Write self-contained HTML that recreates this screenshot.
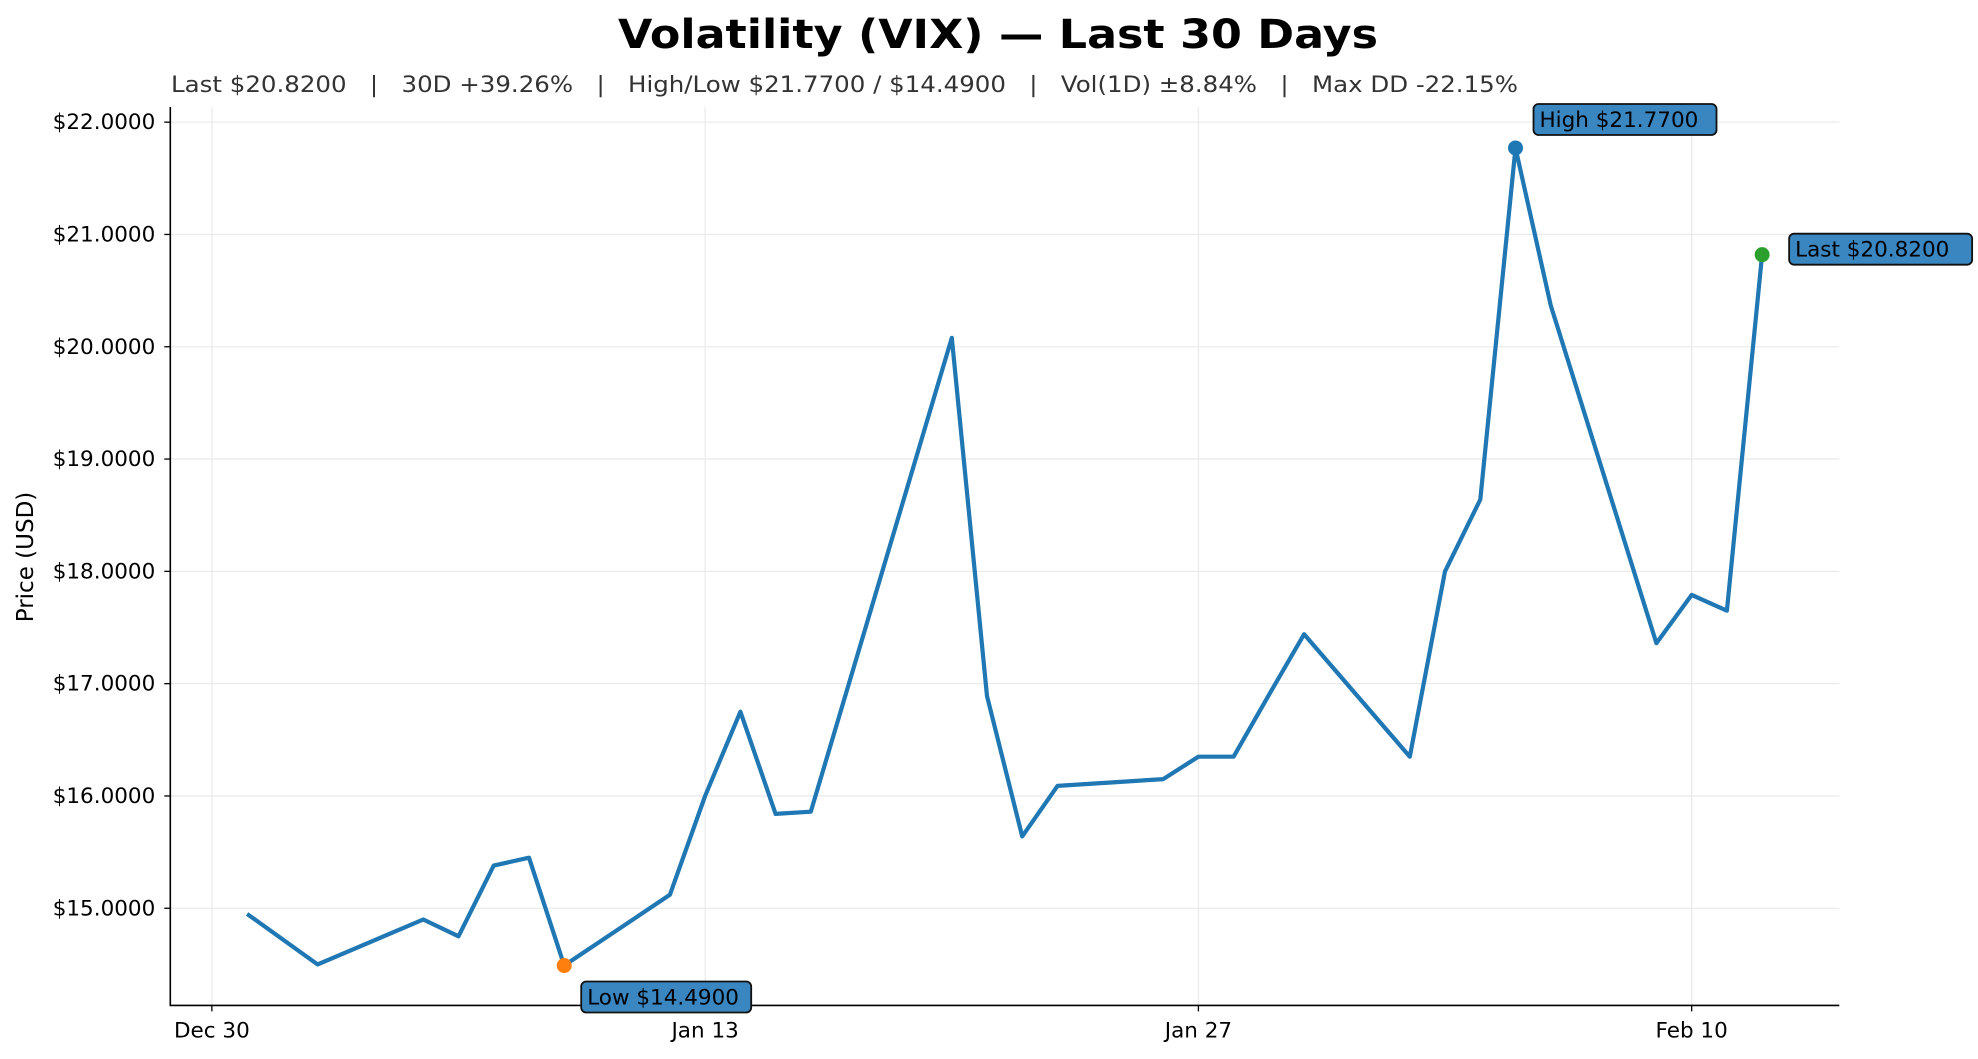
<!DOCTYPE html>
<html><head><meta charset="utf-8"><style>
html,body{margin:0;padding:0;background:#fff}
svg{display:block;font-family:"DejaVu Sans","Liberation Sans",sans-serif}
</style></head><body>
<svg id="chart" width="1978" height="1059" viewBox="0 0 1978 1059">
<text x="998" y="48" text-anchor="middle" font-size="40" font-weight="bold" textLength="760" lengthAdjust="spacingAndGlyphs">Volatility (VIX) — Last 30 Days</text>
<text x="171" y="92" font-size="22" fill="#333" textLength="1347" lengthAdjust="spacingAndGlyphs" xml:space="preserve">Last $20.8200   |   30D +39.26%   |   High/Low $21.7700 / $14.4900   |   Vol(1D) ±8.84%   |   Max DD -22.15%</text>
<text transform="translate(33,557) rotate(-90)" text-anchor="middle" font-size="23">Price (USD)</text>
<g id="grid"></g><g id="axes"></g><g id="series"></g><g id="ann"></g>
</svg>
<script>
const dayOffsets=[1,3,6,7,8,9,10,13,14,15,16,17,21,22,23,24,27,28,29,30,31,34,35,36,37,38,41,42,43,44];
const prices=[14.95,14.50,14.90,14.75,15.38,15.45,14.49,15.12,16.00,16.75,15.84,15.86,20.08,16.89,15.64,16.09,16.15,16.35,16.35,16.90,17.44,16.35,18.00,18.64,21.77,20.37,17.36,17.79,17.65,20.82];
const yTicks=[15,16,17,18,19,20,21,22];
const xTickDays=[0,14,28,42];
const xTickLabels=["Dec 30","Jan 13","Jan 27","Feb 10"];
const NS="http://www.w3.org/2000/svg";
const L=170.3,R=1839.3,T=107,B=1005.4;
const xMin=-1.18,xMax=46.19,yMin=14.135,yMax=22.135;
const xs=d=>L+(d-xMin)/(xMax-xMin)*(R-L);
const ys=v=>B-(v-yMin)/(yMax-yMin)*(B-T);
function mk(tag,attrs,parent){const e=document.createElementNS(NS,tag);for(const k in attrs)e.setAttribute(k,attrs[k]);parent.appendChild(e);return e;}
const grid=document.getElementById('grid'),axes=document.getElementById('axes'),series=document.getElementById('series'),ann=document.getElementById('ann');
yTicks.forEach(v=>{const y=ys(v);
 let g=mk('line',{x1:L,x2:R,y1:y,y2:y,stroke:'#ebebeb','stroke-width':1.3},grid);
 
 
 let t=mk('line',{x1:L-6,x2:L,y1:y,y2:y,stroke:'#000','stroke-width':1.3},axes);
 
 
 let tx=mk('text',{x:L-15,y:y+7,'text-anchor':'end','font-size':21.5},axes);tx.textContent='$'+v.toFixed(4);
 
 
});
xTickDays.forEach((d,i)=>{const x=xs(d);
 let g=mk('line',{x1:x,x2:x,y1:T,y2:B,stroke:'#ebebeb','stroke-width':1.3},grid);
 
 
 let t=mk('line',{x1:x,x2:x,y1:B,y2:B+6,stroke:'#000','stroke-width':1.3},axes);
 
 
 let tx=mk('text',{x:x,y:B+32,'text-anchor':'middle','font-size':21.5},axes);tx.textContent=xTickLabels[i];
 
 
});
let ax=mk('path',{d:`M${L},${T} L${L},${B} L${R},${B}`,fill:'none',stroke:'#000','stroke-width':1.6},axes);


const pts=dayOffsets.map((d,i)=>xs(d).toFixed(1)+','+ys(prices[i]).toFixed(1)).join(' ');
let pl=mk('polyline',{points:pts,fill:'none',stroke:'#1f77b4','stroke-width':4.2,'stroke-linejoin':'round'},series);


let hi=0,lo=0;prices.forEach((p,i)=>{if(p>prices[hi])hi=i;if(p<prices[lo])lo=i;});
const last=prices.length-1;
function marker(i,color,label,dx,dy,name){
 const x=xs(dayOffsets[i]),y=ys(prices[i]);
 let c=mk('circle',{cx:x,cy:y,r:7.5,fill:color},ann);
 
 
 const txt=label+' $'+prices[i].toFixed(4);
 const w=txt.length*13+14;
 let r=mk('rect',{x:x+dx,y:y+dy,width:w,height:31,rx:5,fill:'#3a86c0',stroke:'#111','stroke-width':1.8},ann);
 
 
 let t=mk('text',{x:x+dx+6,y:y+dy+23,'font-size':21.5,fill:'#000'},ann);t.textContent=txt;
 
 
}
marker(lo,'#ff7f0e','Low',17,16,'low');
marker(hi,'#1f77b4','High',18,-44,'high');
marker(last,'#2ca02c','Last',27,-21,'last');
</script>
</body></html>
